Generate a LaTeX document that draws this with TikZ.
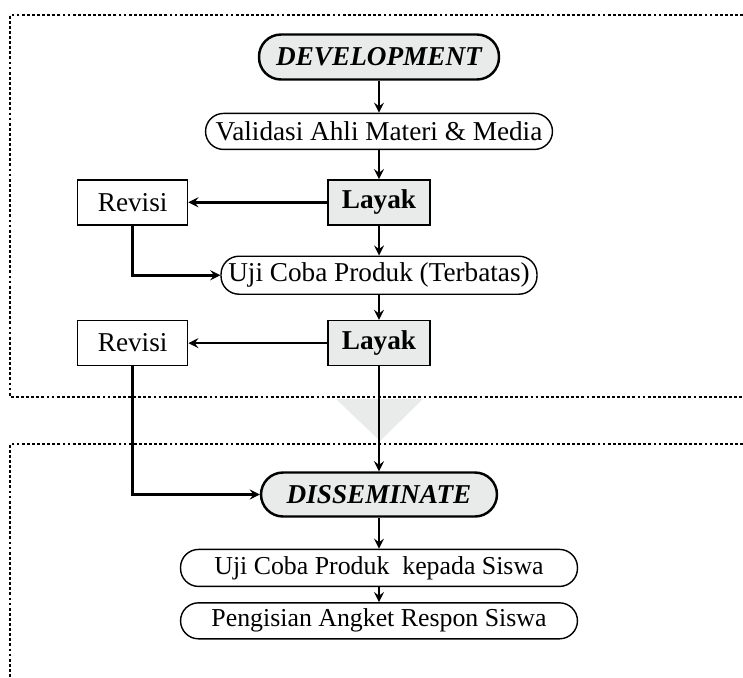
\documentclass[tikz,border=0pt]{standalone}
\usepackage{fontspec}
\setmainfont{Liberation Serif}
\usepackage{tikz}
\usetikzlibrary{shapes,arrows,positioning,calc}
\usepackage{xcolor}
\definecolor{boxgrey}{RGB}{232,235,234}

\begin{document}
\begin{tikzpicture}[
        x=0.02cm, y=-0.02cm,
        node distance=0.6cm,
        font=\fontsize{15.5}{18}\selectfont,
        phase/.style={rectangle, draw, rounded corners=0.44cm, line width=1.4pt, fill=boxgrey, minimum width=4.8cm, minimum height=0.9cm, font=\fontsize{15.5}{18}\selectfont\bfseries\itshape},
        proc/.style={rectangle, draw, rounded corners=0.36cm, line width=0.8pt, minimum height=0.74cm, align=center},
        layakbox/.style={rectangle, draw, line width=0.8pt, fill=boxgrey, minimum width=2.04cm, minimum height=0.9cm, font=\fontsize{15.5}{18}\selectfont\bfseries},
        revbox/.style={rectangle, draw, line width=0.8pt, minimum width=2.2cm, minimum height=0.9cm},
        frame/.style={line width=1.6pt, dash pattern=on 1.6pt off 1.3pt},
        arrow/.style={->, line width=1.5pt, >=stealth}
    ]
        \useasboundingbox (0,0) rectangle (743,677);

        % dotted frames and the grey triangle between them
        \draw[frame] (743,15) -- (10,15) -- (10,397) -- (743,397);
        \draw[frame] (743,444) -- (10,444) -- (10,677);
        \fill[boxgrey] (336,399) -- (423,399) -- (380,441) -- cycle;

        % Development
        \node[phase] (dev) at (379,57) {DEVELOPMENT};
        \node[proc, minimum width=6.94cm, minimum height=0.72cm, below=0.64cm of dev] (val) {Validasi Ahli Materi \& Media};
        \node[layakbox, below=0.58cm of val] (layak1) {Layak};
        \node[revbox, left=2.78cm of layak1] (rev1) {Revisi};
        \node[proc, minimum width=6.32cm, minimum height=0.76cm, below=0.6cm of layak1] (uji1) {Uji Coba Produk (Terbatas)};
        \node[layakbox, below=0.5cm of uji1] (layak2) {Layak};
        \node[revbox, left=2.78cm of layak2] (rev2) {Revisi};

        % Disseminate
        \node[phase, minimum width=4.72cm, minimum height=0.88cm, below=2.1cm of layak2] (dis) {DISSEMINATE};
        \node[proc, minimum width=7.94cm, font=\fontsize{14.7}{17}\selectfont, below=0.62cm of dis] (uji2) {Uji Coba Produk ~kepada Siswa};
        \node[proc, minimum width=7.94cm, minimum height=0.72cm, font=\fontsize{14.7}{17}\selectfont, below=0.3cm of uji2] (angket) {Pengisian Angket Respon Siswa};

        % arrows
        \draw[arrow] (dev) -- (val);
        \draw[arrow] (val) -- (layak1);
        \draw[arrow] (layak1) -- (rev1);
        \draw[arrow] (layak1) -- (uji1);
        \draw[arrow] (rev1) |- (uji1);
        \draw[arrow] (uji1) -- (layak2);
        \draw[arrow] (layak2) -- (rev2);
        \draw[arrow] (layak2) -- (dis);
        \draw[arrow] (rev2) |- (dis);
        \draw[arrow] (dis) -- (uji2);
        \draw[arrow] (uji2) -- (angket);

    \end{tikzpicture}
\end{document}
